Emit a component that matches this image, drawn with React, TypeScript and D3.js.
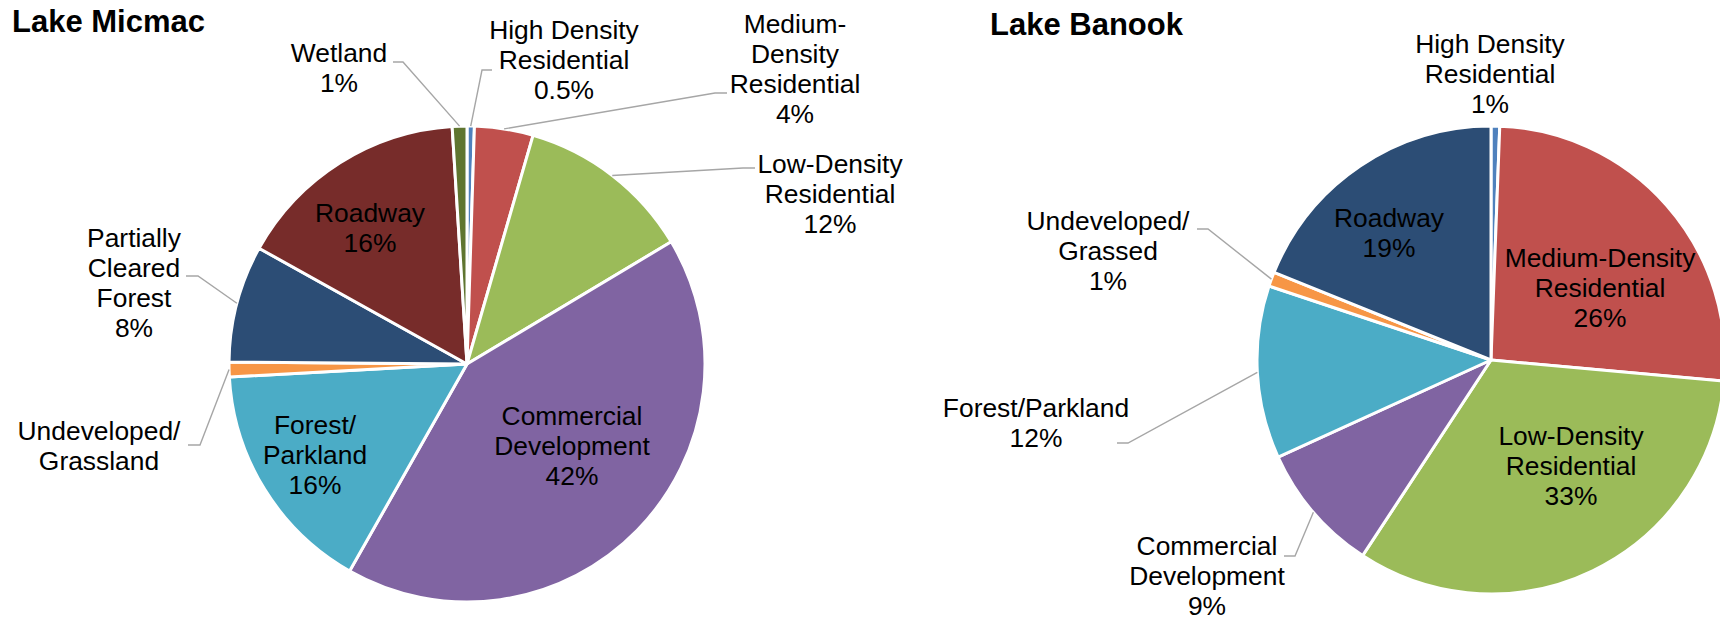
import React from "react";
import * as d3 from "d3";

// ---------- DATA ----------
const micmacCategories = [
  "High Density Residential",
  "Medium-Density Residential",
  "Low-Density Residential",
  "Commercial Development",
  "Forest/Parkland",
  "Undeveloped/Grassland",
  "Partially Cleared Forest",
  "Roadway",
  "Wetland",
];
const micmacValues = [0.5, 4, 12, 42, 16, 1, 8, 16, 1];
const micmacLabelText = [
  "High Density\nResidential",
  "Medium-\nDensity\nResidential",
  "Low-Density\nResidential",
  "Commercial\nDevelopment",
  "Forest/\nParkland",
  "Undeveloped/\nGrassland",
  "Partially\nCleared\nForest",
  "Roadway",
  "Wetland",
];
const micmacShowPercent = [true, true, true, true, true, false, true, true, true];

const banookCategories = [
  "High Density Residential",
  "Medium-Density Residential",
  "Low-Density Residential",
  "Commercial Development",
  "Forest/Parkland",
  "Undeveloped/Grassed",
  "Roadway",
];
const banookValues = [0.6, 26, 33, 9, 12, 1, 19];
const banookLabelText = [
  "High Density\nResidential",
  "Medium-Density\nResidential",
  "Low-Density\nResidential",
  "Commercial\nDevelopment",
  "Forest/Parkland",
  "Undeveloped/\nGrassed",
  "Roadway",
];
const banookShowPercent = [true, true, true, true, true, true, true];

// ---------- STYLE ----------
const colorMap: Record<string, string> = {
  "High Density Residential": "#4F81BD",
  "Medium-Density Residential": "#C0504D",
  "Low-Density Residential": "#9BBB59",
  "Commercial Development": "#8064A2",
  "Forest/Parkland": "#4BACC6",
  "Undeveloped/Grassland": "#F79646",
  "Undeveloped/Grassed": "#F79646",
  "Partially Cleared Forest": "#2C4D75",
  Roadway: "#772C2A",
  Wetland: "#5F7530",
};
const banookColorOverride: Record<string, string> = { Roadway: "#2C4D75" };

const FONT = "'Liberation Sans', Arial, Helvetica, sans-serif";
const FS = 26.4;
const LH = 30;

type LabelLayout = {
  x: number; // text centre
  y: number; // first baseline
  leader?: [number, number, number, number]; // start x,y, elbow x,y
};

// layout of the data labels (as positioned in the original chart)
const micmacLayout: LabelLayout[] = [
  { x: 564, y: 38.5, leader: [492, 70, 482, 70] },
  { x: 795, y: 33, leader: [727, 93, 715, 93] },
  { x: 830, y: 173, leader: [755, 168, 743, 168] },
  { x: 572, y: 425 },
  { x: 315, y: 434 },
  { x: 99, y: 440, leader: [188, 445, 200, 445] },
  { x: 134, y: 247, leader: [186, 276, 198, 276] },
  { x: 370, y: 222 },
  { x: 339, y: 62, leader: [393, 62, 403, 62] },
];
const banookLayout: LabelLayout[] = [
  { x: 1490, y: 53 },
  { x: 1600, y: 267 },
  { x: 1571, y: 445 },
  { x: 1207, y: 555, leader: [1284, 556, 1295, 556] },
  { x: 1036, y: 417, leader: [1117, 443, 1128, 443] },
  { x: 1108, y: 230, leader: [1197, 229, 1208, 229] },
  { x: 1389, y: 227 },
];

const fmtMicmac = (v: number) => (Number.isInteger(v) ? `${v}%` : `${v.toFixed(1)}%`);
const fmtBanook = (v: number) => `${Math.round(v)}%`;

type PieProps = {
  title: string;
  titleX: number;
  titleY: number;
  categories: string[];
  values: number[];
  labelText: string[];
  showPercent: boolean[];
  layout: LabelLayout[];
  cx: number;
  cy: number;
  r: number;
  colors: (c: string) => string;
  fmt: (v: number) => string;
};

function Pie(props: PieProps) {
  const { title, titleX, titleY, categories, values, labelText, showPercent, layout, cx, cy, r, colors, fmt } = props;
  const data = categories.map((c, i) => ({ c, v: values[i], i }));
  const pie = d3
    .pie<{ c: string; v: number; i: number }>()
    .sort(null)
    .value((d) => d.v)
    .startAngle(0)
    .endAngle(2 * Math.PI);
  const arcs = pie(data);
  const arc = d3
    .arc<d3.PieArcDatum<{ c: string; v: number; i: number }>>()
    .innerRadius(0)
    .outerRadius(r);
  const edgeArc = d3
    .arc<d3.PieArcDatum<{ c: string; v: number; i: number }>>()
    .innerRadius(r)
    .outerRadius(r);

  return (
    <g>
      <text x={titleX} y={titleY} fontFamily={FONT} fontWeight="bold" fontSize={31} fill="#000">
        {title}
      </text>
      <g transform={`translate(${cx},${cy})`}>
        {arcs.map((a) => (
          <path
            key={a.data.c}
            d={arc(a) || ""}
            fill={colors(a.data.c)}
            stroke="#fff"
            strokeWidth={3}
            strokeLinejoin="round"
          />
        ))}
      </g>
      {arcs.map((a) => {
        const L = layout[a.data.i];
        if (!L.leader) return null;
        const [ex, ey] = edgeArc.centroid(a);
        const [sx, sy, bx, by] = L.leader;
        return (
          <path
            key={"l" + a.data.c}
            d={`M${sx},${sy}L${bx},${by}L${cx + ex},${cy + ey}`}
            fill="none"
            stroke="#A6A6A6"
            strokeWidth={1.4}
          />
        );
      })}
      {arcs.map((a) => {
        const L = layout[a.data.i];
        const lines = labelText[a.data.i].split("\n");
        if (showPercent[a.data.i]) lines.push(fmt(a.data.v));
        return (
          <text
            key={"t" + a.data.c}
            x={L.x}
            y={L.y}
            textAnchor="middle"
            fontFamily={FONT}
            fontSize={FS}
            fill="#000"
          >
            {lines.map((ln, k) => (
              <tspan key={k} x={L.x} y={L.y + k * LH}>
                {ln}
              </tspan>
            ))}
          </text>
        );
      })}
    </g>
  );
}

export default function App() {
  return (
    <div style={{ position: "absolute", left: 0, top: 0 }}>
      <svg width={1720} height={623} viewBox="0 0 1720 623" style={{ display: "block", background: "#fff" }}>
        <rect x={0} y={0} width={1720} height={623} fill="#fff" />
        <Pie
          title="Lake Micmac"
          titleX={12}
          titleY={32}
          categories={micmacCategories}
          values={micmacValues}
          labelText={micmacLabelText}
          showPercent={micmacShowPercent}
          layout={micmacLayout}
          cx={467}
          cy={364}
          r={238}
          colors={(c) => colorMap[c]}
          fmt={fmtMicmac}
        />
        <Pie
          title="Lake Banook"
          titleX={990}
          titleY={35}
          categories={banookCategories}
          values={banookValues}
          labelText={banookLabelText}
          showPercent={banookShowPercent}
          layout={banookLayout}
          cx={1491}
          cy={360}
          r={234}
          colors={(c) => banookColorOverride[c] || colorMap[c]}
          fmt={fmtBanook}
        />
      </svg>
    </div>
  );
}
